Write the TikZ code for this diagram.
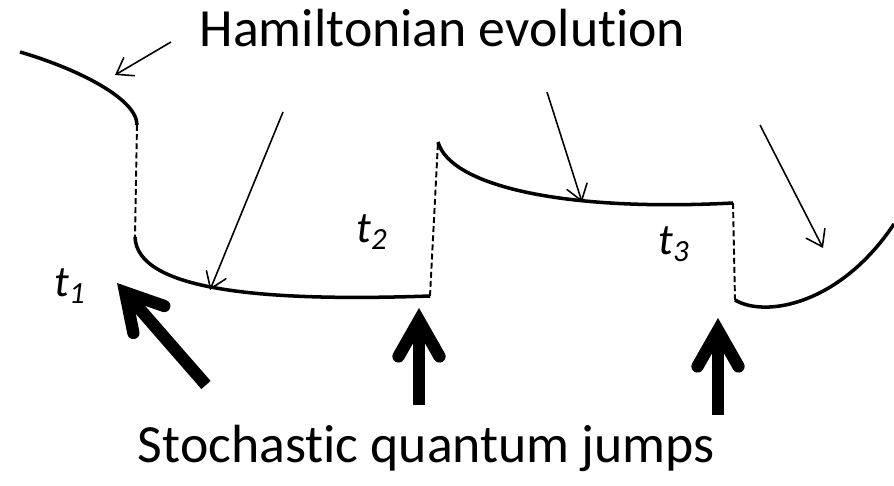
\documentclass[tikz,border=0pt]{standalone}
\usepackage{fontspec}
\setmainfont{Carlito}[RawFeature={-liga,-clig,-calt,-dlig}]
\usetikzlibrary{arrows.meta}
\begin{document}
\begin{tikzpicture}[x=0.02cm, y=-0.02cm,
  curve/.style={line width=2pt, line cap=butt},
  jumpline/.style={line width=1.1pt, dash pattern=on 3.4pt off 1.8pt},
  thin arrow/.style={line width=0.9pt, -{Straight Barb[length=0.3cm, width=0.42cm, line cap=round]}},
  thick arrow/.style={line width=7pt, -{Straight Barb[length=0.72cm, width=0.82cm, line cap=round, line join=miter]}},
  bigtext/.style={font=\fontsize{30.6}{36}\selectfont, inner sep=0pt, anchor=base},
  tlabel/.style={font=\fontsize{25}{30}\selectfont\itshape, inner sep=0pt, anchor=base}]
\useasboundingbox (0,0) rectangle (894,486);

% texts
\node[bigtext] (ham) at (442.5,47) {Hamiltonian evolut\kern0pt ion};
\node[bigtext] (sto) at (426.5,463) {Stochast\kern0pt ic quantum jumps};
\node[tlabel] (t1) at (70,297) {t\textsubscript{1}};
\node[tlabel] (t2) at (372,243) {t\textsubscript{2}};
\node[tlabel] (t3) at (674,255) {t\textsubscript{3}};

% trajectory points
\coordinate (a0) at (20,52);
\coordinate (a1) at (137,125);
\coordinate (b0) at (135,237);
\coordinate (b1) at (430,296);
\coordinate (c0) at (438,142);
\coordinate (c1) at (733,203);
\coordinate (d0) at (735,300);
\coordinate (d1) at (894,224);

% Hamiltonian evolution segments
\draw[curve] (a0) .. controls (75,68) and (137,98) .. (a1);
\draw[curve] (b0) .. controls (137,290) and (260,302) .. (b1);
\draw[curve] (c0) .. controls (450,185) and (560,212) .. (c1);
\draw[curve] (d0) .. controls (765,318) and (840,305) .. (d1);

% jumps (dashed)
\draw[jumpline] (a1) -- (b0);
\draw[jumpline] (b1) -- (c0);
\draw[jumpline] (c1) -- (d0);

% thin arrows
\coordinate (ha) at (171,42);  \coordinate (hat) at (115,75);
\coordinate (hb) at (283,112); \coordinate (hbt) at (210,290);
\coordinate (hc) at (547,92);  \coordinate (hct) at (582,202);
\coordinate (hd) at (760,125); \coordinate (hdt) at (823,248);
\draw[thin arrow] (ha) -- (hat);
\draw[thin arrow] (hb) -- (hbt);
\draw[thin arrow] (hc) -- (hct);
\draw[thin arrow] (hd) -- (hdt);

% thick arrows
\coordinate (ja) at (206,385); \coordinate (jat) at (117,283);
\coordinate (jb) at (419,405); \coordinate (jbt) at (419,308);
\coordinate (jc) at (718,415); \coordinate (jct) at (718,318);
\draw[thick arrow] (ja) -- (jat);
\draw[thick arrow] (jb) -- (jbt);
\draw[thick arrow] (jc) -- (jct);
\end{tikzpicture}
\end{document}
